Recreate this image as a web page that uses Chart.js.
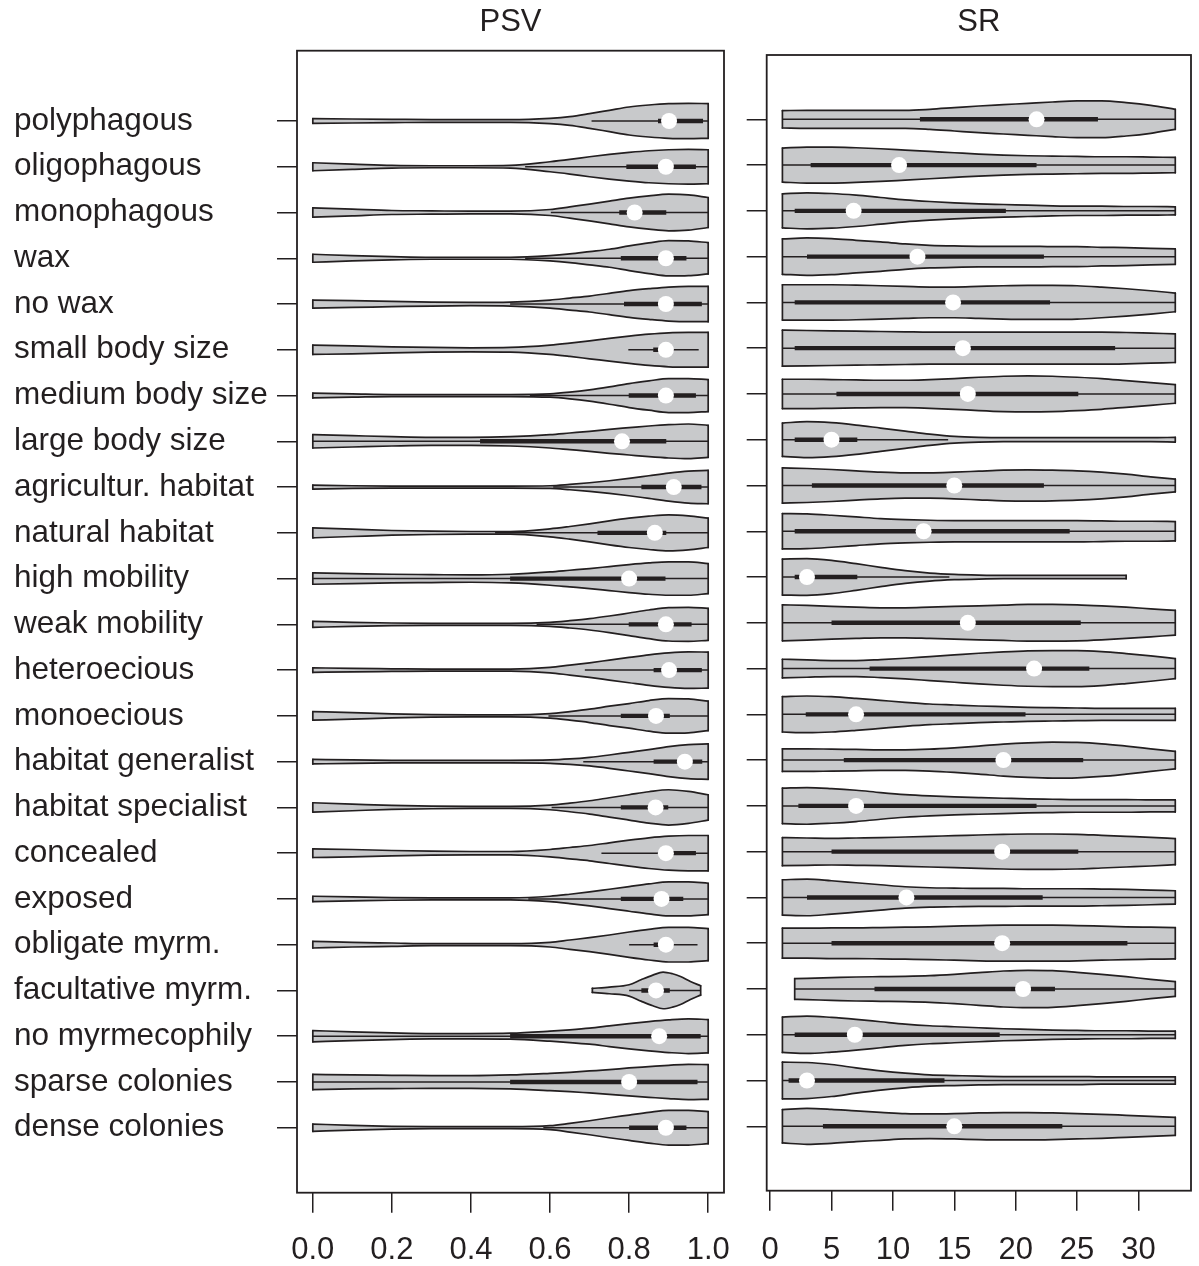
<!DOCTYPE html>
<html><head><meta charset="utf-8">
<script src="https://cdn.jsdelivr.net/npm/chart.js@4.4.0/dist/chart.umd.min.js"></script>
<style>
html,body{margin:0;padding:0;background:#fff;width:1199px;height:1266px;overflow:hidden}
canvas{position:absolute;top:0}
</style></head>
<body>
<canvas id="c1" width="740" height="1266" style="left:0"></canvas>
<canvas id="c2" width="459" height="1266" style="left:740px"></canvas>
<script>
const categories = ["polyphagous","oligophagous","monophagous","wax","no wax","small body size","medium body size","large body size","agricultur. habitat","natural habitat","high mobility","weak mobility","heteroecious","monoecious","habitat generalist","habitat specialist","concealed","exposed","obligate myrm.","facultative myrm.","no myrmecophily","sparse colonies","dense colonies"];

// ---- PSV panel ----
const psvGrid = [0,0.1,0.2,0.3,0.4,0.5,0.6,0.65,0.7,0.75,0.8,0.85,0.9,0.95,1.0];
const psvFacultGrid = [0.707,0.75,0.8,0.83,0.86,0.886,0.91,0.93,0.955,0.981];
const psvDensity = [
  [7,6,5,4,4,4,8,13,22,32,42,48,52,53,52],
  [12,8,4,3,3,4,15,22,30,37,43,48,51,52,51],
  [14,10,6,5,4,4,9,17,25,34,43,50,55,53,45],
  [12,8,5,3,3,3,8,13,20,27,37,46,53,52,47],
  [12,10,8,6,5,6,12,18,24,32,40,46,51,53,53],
  [14,12,9,7,6,7,14,20,27,34,41,47,51,52,52],
  [7,5,3,3,3,3,5,10,17,26,36,44,51,51,48],
  [20,17,14,12,12,14,20,25,30,36,41,46,50,52,48],
  [6,4,3,3,3,3,4,8,13,19,26,34,42,48,50],
  [15,11,7,5,4,4,12,19,27,36,44,50,54,51,44],
  [17,15,13,12,11,13,20,25,30,36,42,47,50,50,45],
  [9,6,4,3,3,3,6,11,17,25,34,43,50,51,48],
  [7,5,4,3,3,3,8,15,22,30,38,46,52,55,54],
  [13,10,6,4,3,3,7,13,20,29,37,46,52,51,44],
  [7,5,4,4,4,4,5,8,13,20,28,36,45,51,53],
  [14,10,6,4,3,3,7,13,20,29,38,47,53,48,38],
  [13,11,8,6,5,5,11,17,23,31,39,46,51,53,53],
  [8,6,4,3,3,3,8,14,21,29,37,45,51,51,47],
  [10,7,5,3,3,3,7,14,21,29,38,46,52,52,48],
  [6,10,17,32,46,55,50,42,27,14],
  [17,13,10,8,8,9,15,19,24,31,38,44,49,52,50],
  [23,21,20,19,19,21,26,29,33,37,42,46,50,53,52],
  [11,7,4,3,3,3,6,13,21,30,38,46,52,52,48]
];
const psvWhiskerLow  = [0.705,0.537,0.602,0.537,0.499,0.798,0.549,0,0.608,0.461,0,0.566,0.688,0.596,0.684,0.604,0.73,0.545,0.8,0.8,0,0,0.583];
const psvWhiskerHigh = [1,1,1,1,1,0.976,1,1,1,1,1,1,1,1,1,1,1,1,0.973,0.98,1,1,1];
const psvQ1 = [0.873,0.793,0.775,0.779,0.787,0.861,0.799,0.423,0.831,0.72,0.499,0.799,0.862,0.779,0.862,0.779,0.885,0.779,0.862,0.831,0.499,0.499,0.8];
const psvQ3 = [0.987,0.969,0.894,0.945,0.984,0.9,0.969,0.894,0.983,0.894,0.892,0.958,0.984,0.903,0.985,0.899,0.969,0.937,0.9,0.903,0.981,0.973,0.945];
const psvMedian = [0.901,0.893,0.814,0.893,0.893,0.893,0.893,0.782,0.913,0.865,0.8,0.893,0.901,0.868,0.941,0.867,0.893,0.882,0.893,0.868,0.876,0.8,0.893];
const psvTicks = [0,0.2,0.4,0.6,0.8,1.0];
const psvTickLabels = ["0.0","0.2","0.4","0.6","0.8","1.0"];

// ---- SR panel ----
const srGrid = [1,3,5,7,9,11,13,15,17,19,21,23,25,27,29,31,33];
const srFacultGrid = [2,3,5,7,9,11,13,15,17,19,21,23,25,27,29,31,33];
const srDensity = [
  [26,27,27,27,27,27,30,35,40,44,48,52,55,55,50,42,30],
  [51,54,54,52,49,45,41,37,33,30,28,27,26,25,25,24,23],
  [51,54,52,47,40,33,28,24,21,19,17,15,14,14,13,13,12],
  [53,56,54,49,44,38,34,32,31,31,31,30,30,28,27,25,23],
  [53,53,53,52,50,48,46,46,48,50,51,51,50,46,41,35,28],
  [54,53,52,51,50,49,48,48,48,48,48,48,48,48,47,45,43],
  [44,44,43,42,41,41,43,46,50,53,54,53,50,46,40,34,28],
  [50,54,51,44,35,26,17,10,7,6,6,6,6,6,6,6,7],
  [53,51,48,44,40,38,38,40,43,46,47,46,44,40,34,26,19],
  [53,52,48,43,38,35,33,32,32,32,32,32,32,31,30,30,29],
  [54,55,50,40,29,19,12,8,6,5,5,5,5,5,5],
  [54,52,49,47,45,45,47,49,51,53,55,55,54,51,47,42,37],
  [28,26,24,24,27,31,36,41,46,50,53,54,54,51,45,38,30],
  [53,55,53,48,42,36,31,28,25,23,21,20,19,18,18,18,18],
  [34,34,33,32,31,31,33,37,42,48,52,54,53,49,42,34,26],
  [53,55,52,47,40,34,30,27,25,23,21,20,19,19,19,18,18],
  [42,41,40,41,42,44,46,48,50,52,53,53,52,49,46,43,39],
  [53,55,50,44,38,32,29,28,27,27,26,26,26,25,24,22,20],
  [45,45,46,46,47,48,49,51,53,54,54,54,53,51,49,48,47],
  [31,32,34,36,37,38,40,44,49,54,56,55,50,44,37,29,22],
  [53,56,52,46,39,32,27,24,21,18,16,14,13,12,12,11,11],
  [55,54,48,38,29,22,17,15,13,12,12,12,12,11,11,11,11],
  [50,54,51,46,42,38,37,38,40,41,41,40,38,36,33,30,27]
];
const srWhiskerLow  = [1,1,1,1,1,1,1,1,1,1,1,1,1,1,1,1,1,1,1,2,1,1,1];
const srWhiskerHigh = [33,33,33,33,33,33,33,14.5,33,33,14.6,33,33,33,33,33,33,33,33,33,33,33,33];
const srQ1 = [12.2,3.3,2.0,3.0,2.0,2.0,5.4,2.0,3.4,2.0,2.0,5.0,8.1,2.9,6.0,2.3,5.0,3.0,5.0,8.5,2.0,1.5,4.3];
const srQ3 = [26.7,21.7,19.2,22.3,22.8,28.1,25.1,7.1,22.3,24.4,7.1,25.3,26.0,20.8,25.5,21.7,25.1,22.2,29.1,23.2,18.7,14.2,23.8];
const srMedian = [21.7,10.5,6.8,12.0,14.9,15.7,16.1,5.0,15.0,12.5,3.0,16.1,21.5,7.0,19.0,7.0,18.9,11.1,18.9,20.6,6.9,3.0,15.0];
const srTicks = [0,5,10,15,20,25,30];
const srTickLabels = ["0","5","10","15","20","25","30"];

// ---- styling ----
const INK = '#231f20';
const GRAY = '#c8c9cb';
const DENS_TO_ROW = 1 / 137.3;
const FONT = "'Liberation Sans', Arial, Helvetica, sans-serif";
Chart.defaults.font.family = FONT;
Chart.defaults.color = INK;

const boxPlugin = {
  id: 'box',
  afterDraw(chart) {
    const {ctx, chartArea: a} = chart;
    ctx.save();
    ctx.strokeStyle = INK;
    ctx.lineWidth = 1.8;
    ctx.strokeRect(a.left, a.top, a.right - a.left, a.bottom - a.top);
    ctx.restore();
  }
};

function buildDatasets(grid, facultGrid, dens, wLo, wHi, q1, q3, med) {
  const ds = [];
  const caps = [], whisk = [], iqr = [], meds = [];
  dens.forEach((d, i) => {
    const g = (i === 19) ? facultGrid : grid;
    const pts = d.map((w, k) => [g[k], w * DENS_TO_ROW]);
    const common = {borderColor: INK, borderWidth: 1.7, pointRadius: 0, cubicInterpolationMode: 'monotone', borderCapStyle: 'round', order: 4};
    ds.push(Object.assign({data: pts.map(([x, h]) => ({x, y: i - h})), fill: false}, common));
    ds.push(Object.assign({data: pts.map(([x, h]) => ({x, y: i + h})), fill: '-1', backgroundColor: GRAY}, common));
    const a = pts[0], b = pts[pts.length - 1];
    caps.push({x: a[0], y: i - a[1]}, {x: a[0], y: i + a[1]}, {x: a[0], y: null},
              {x: b[0], y: i - b[1]}, {x: b[0], y: i + b[1]}, {x: b[0], y: null});
    whisk.push({x: wLo[i], y: i}, {x: wHi[i], y: i}, {x: wHi[i], y: null});
    iqr.push({x: q1[i], y: i}, {x: q3[i], y: i}, {x: q3[i], y: null});
    meds.push({x: med[i], y: i});
  });
  ds.push({data: caps, borderColor: INK, borderWidth: 1.7, pointRadius: 0, tension: 0, fill: false, spanGaps: false, borderCapStyle: 'round', order: 3});
  ds.push({data: whisk, borderColor: INK, borderWidth: 1.5, pointRadius: 0, tension: 0, fill: false, spanGaps: false, order: 2});
  ds.push({data: iqr, borderColor: INK, borderWidth: 4.4, pointRadius: 0, tension: 0, fill: false, spanGaps: false, borderCapStyle: 'butt', order: 1});
  ds.push({data: meds, showLine: false, pointRadius: 8, pointBackgroundColor: '#ffffff', pointBorderWidth: 0, pointBorderColor: '#ffffff', fill: false, order: 0});
  return ds;
}

function makePanel(canvas, p) {
  return new Chart(canvas, {
    type: 'line',
    data: {datasets: buildDatasets(p.grid, p.facultGrid, p.dens, p.wLo, p.wHi, p.q1, p.q3, p.med)},
    options: {
      responsive: false,
      animation: false,
      devicePixelRatio: 1,
      events: [],
      layout: {padding: {left: p.padLeft, right: p.padRight, top: 0, bottom: 0}},
      plugins: {
        legend: {display: false},
        tooltip: {enabled: false},
        title: {display: true, text: p.title, fullSize: false, color: INK,
                font: {size: 31, weight: 'normal', lineHeight: 1.2},
                padding: {top: 3.4, bottom: p.titleBottom}}
      },
      scales: {
        x: {
          type: 'linear', position: 'bottom', min: p.xMin, max: p.xMax,
          afterBuildTicks: s => { s.ticks = p.ticks.map(v => ({value: v})); },
          afterFit: s => { s.height = p.xAxisHeight; s.paddingLeft = 0; s.paddingRight = 0; },
          ticks: {autoSkip: false, maxRotation: 0, padding: p.xLabelPad, font: {size: 31}, color: INK,
                  callback: (v, idx) => p.tickLabels[idx]},
          grid: {drawOnChartArea: false, drawTicks: true, tickLength: 20, color: INK, lineWidth: 1.5},
          border: {display: false}
        },
        y: {
          type: 'linear', position: 'left', reverse: true, min: p.yMin, max: p.yMax,
          afterBuildTicks: s => { s.ticks = categories.map((c, i) => ({value: i})); },
          afterFit: s => { s.width = p.yAxisWidth; s.paddingTop = 0; s.paddingBottom = 0; },
          ticks: {autoSkip: false, crossAlign: 'far', padding: 4, font: {size: 31.5}, color: INK,
                  callback: (v) => p.showLabels ? categories[v] : ''},
          grid: {drawOnChartArea: false, drawTicks: true, tickLength: 20, color: INK, lineWidth: 1.5},
          border: {display: false}
        }
      }
    },
    plugins: [boxPlugin]
  });
}

makePanel(document.getElementById('c1'), {
  title: 'PSV', grid: psvGrid, facultGrid: psvFacultGrid, dens: psvDensity,
  wLo: psvWhiskerLow, wHi: psvWhiskerHigh, q1: psvQ1, q3: psvQ3, med: psvMedian,
  ticks: psvTicks, tickLabels: psvTickLabels, xMin: -0.04, xMax: 1.04,
  yMin: -1.536, yMax: 23.42, showLabels: true,
  padLeft: 14, padRight: 16, yAxisWidth: 283, titleBottom: 10.1,
  xAxisHeight: 73.3, xLabelPad: 18.7
});
makePanel(document.getElementById('c2'), {
  title: 'SR', grid: srGrid, facultGrid: srFacultGrid, dens: srDensity,
  wLo: srWhiskerLow, wHi: srWhiskerHigh, q1: srQ1, q3: srQ3, med: srMedian,
  ticks: srTicks, tickLabels: srTickLabels, xMin: -0.28, xMax: 34.28,
  yMin: -1.405, yMax: 23.407, showLabels: false,
  padLeft: 0, padRight: 3, yAxisWidth: 26.7, titleBottom: 14.4,
  xAxisHeight: 75.3, xLabelPad: 20.7
});
</script>
</body></html>
